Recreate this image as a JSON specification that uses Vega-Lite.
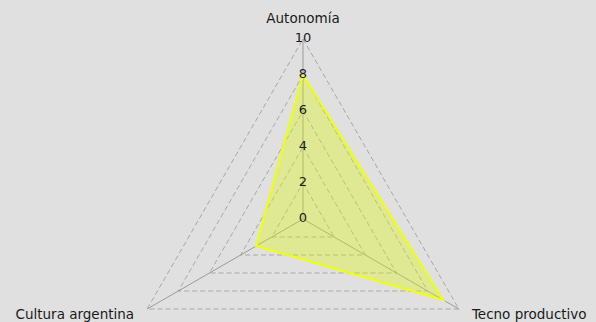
{
 "$schema": "https://vega.github.io/schema/vega-lite/v6.json",
 "width": 596, "height": 322,
 "autosize": {"type": "fit", "contains": "padding"},
 "padding": 0,
 "background": "#e0e0e0",
 "config": {"view": {"stroke": null}, "font": "DejaVu Sans"},
 "datasets": {
  "ejes": [
   {"eje": "Autonomía", "orden": 0, "valor": 8},
   {"eje": "Tecno productivo", "orden": 1, "valor": 9},
   {"eje": "Cultura argentina", "orden": 2, "valor": 3}
  ],
  "grilla": [
   {"nivel": 2, "orden": 0}, {"nivel": 2, "orden": 1}, {"nivel": 2, "orden": 2},
   {"nivel": 4, "orden": 0}, {"nivel": 4, "orden": 1}, {"nivel": 4, "orden": 2},
   {"nivel": 6, "orden": 0}, {"nivel": 6, "orden": 1}, {"nivel": 6, "orden": 2},
   {"nivel": 8, "orden": 0}, {"nivel": 8, "orden": 1}, {"nivel": 8, "orden": 2},
   {"nivel": 10, "orden": 0}, {"nivel": 10, "orden": 1}, {"nivel": 10, "orden": 2}
  ],
  "ticks": [{"t": 0}, {"t": 2}, {"t": 4}, {"t": 6}, {"t": 8}, {"t": 10}]
 },
 "encoding": {
  "x": {"field": "x", "type": "quantitative", "scale": {"domain": [-16.833, 16.278], "nice": false, "zero": false}, "axis": null},
  "y": {"field": "y", "type": "quantitative", "scale": {"domain": [-5.722, 12.167], "nice": false, "zero": false}, "axis": null}
 },
 "layer": [
  {
   "data": {"name": "grilla"},
   "transform": [
    {"calculate": "PI/2 - datum.orden*2*PI/3", "as": "ang"},
    {"calculate": "datum.nivel*cos(datum.ang)", "as": "x"},
    {"calculate": "datum.nivel*sin(datum.ang)", "as": "y"}
   ],
   "mark": {"type": "line", "interpolate": "linear-closed", "color": "#a8a8a8", "strokeWidth": 1, "strokeDash": [5, 3]},
   "encoding": {"detail": {"field": "nivel"}, "order": {"field": "orden"}}
  },
  {
   "data": {"name": "ejes"},
   "transform": [
    {"calculate": "PI/2 - datum.orden*2*PI/3", "as": "ang"},
    {"calculate": "10*cos(datum.ang)", "as": "x"},
    {"calculate": "10*sin(datum.ang)", "as": "y"}
   ],
   "mark": {"type": "rule", "color": "#9a9a9a", "strokeWidth": 1},
   "encoding": {"x2": {"datum": 0}, "y2": {"datum": 0}}
  },
  {
   "data": {"name": "ejes"},
   "transform": [
    {"calculate": "PI/2 - datum.orden*2*PI/3", "as": "ang"},
    {"calculate": "datum.valor*cos(datum.ang)", "as": "x"},
    {"calculate": "datum.valor*sin(datum.ang)", "as": "y"}
   ],
   "mark": {"type": "line", "interpolate": "linear-closed", "stroke": "#eeff11", "strokeWidth": 2, "fill": "#dcf500", "fillOpacity": 0.35},
   "encoding": {"order": {"field": "orden"}}
  },
  {
   "data": {"name": "ticks"},
   "transform": [
    {"calculate": "0", "as": "x"},
    {"calculate": "datum.t", "as": "y"}
   ],
   "mark": {"type": "text", "fontSize": 13, "color": "#1a1a1a", "baseline": "middle", "align": "center", "dy": -1},
   "encoding": {"text": {"field": "t", "type": "nominal"}}
  },
  {
   "data": {"name": "ejes"},
   "transform": [
    {"filter": "datum.orden == 0"},
    {"calculate": "0", "as": "x"},
    {"calculate": "10", "as": "y"}
   ],
   "mark": {"type": "text", "fontSize": 13.5, "color": "#1a1a1a", "baseline": "middle", "align": "center", "dy": -20},
   "encoding": {"text": {"field": "eje"}}
  },
  {
   "data": {"name": "ejes"},
   "transform": [
    {"filter": "datum.orden == 1"},
    {"calculate": "10*cos(PI/2 - 2*PI/3)", "as": "x"},
    {"calculate": "10*sin(PI/2 - 2*PI/3)", "as": "y"}
   ],
   "mark": {"type": "text", "fontSize": 13.5, "color": "#1a1a1a", "baseline": "middle", "align": "left", "dx": 13, "dy": 6},
   "encoding": {"text": {"field": "eje"}}
  },
  {
   "data": {"name": "ejes"},
   "transform": [
    {"filter": "datum.orden == 2"},
    {"calculate": "10*cos(PI/2 - 4*PI/3)", "as": "x"},
    {"calculate": "10*sin(PI/2 - 4*PI/3)", "as": "y"}
   ],
   "mark": {"type": "text", "fontSize": 13.5, "color": "#1a1a1a", "baseline": "middle", "align": "right", "dx": -13, "dy": 6},
   "encoding": {"text": {"field": "eje"}}
  }
 ]
}
